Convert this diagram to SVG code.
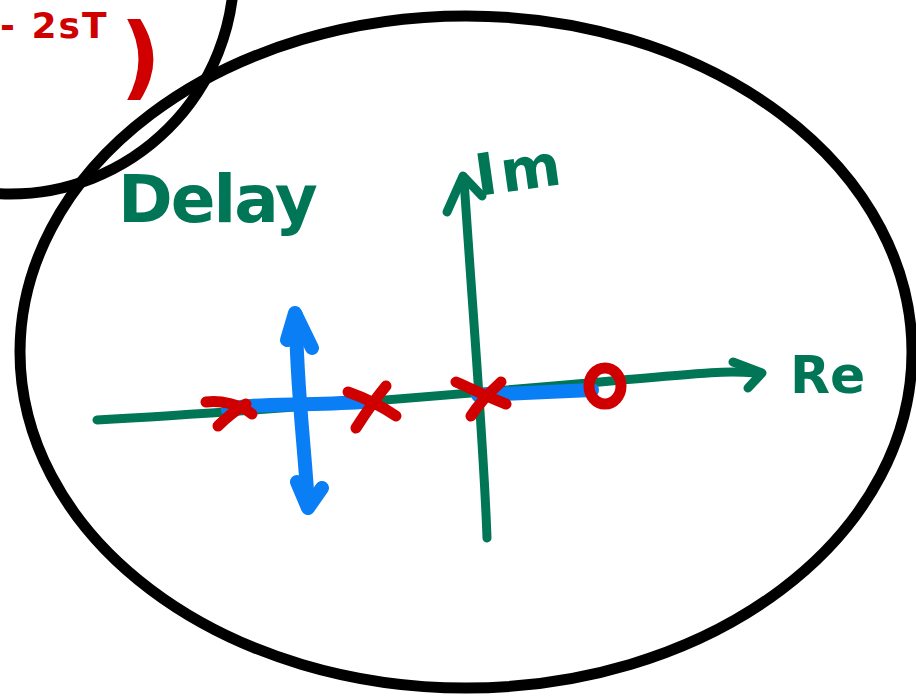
<svg xmlns="http://www.w3.org/2000/svg" width="916" height="697" viewBox="0 0 916 697">
<style>
.k{fill:none;stroke:#000;stroke-width:11}
.g{fill:none;stroke:#007656;stroke-width:9;stroke-linecap:round;stroke-linejoin:round}
.b{fill:none;stroke:#0a7ef5;stroke-width:14;stroke-linecap:round;stroke-linejoin:round}
.r{fill:none;stroke:#d00000;stroke-width:11;stroke-linecap:round;stroke-linejoin:round}
.gt{fill:#007656;font-family:"DejaVu Sans",sans-serif;font-weight:bold}
.rt{fill:#d00000;font-family:"DejaVu Sans",sans-serif;font-weight:bold}
</style>
<rect width="916" height="697" fill="#fff"/>
<g id="outline">
<circle class="k" cx="10" cy="-30" r="224"/>
<ellipse class="k" cx="466" cy="352" rx="446" ry="336"/>
</g>
<g id="formula">
<text class="rt" x="0" y="38" font-size="36" letter-spacing="2">- 2sT</text>
<text class="rt" x="120" y="88" font-size="90">)</text>
</g>
<g id="delay-label"><text class="gt" x="118" y="222" font-size="66" letter-spacing="-2">Delay</text></g>
<g id="connectors">
<path class="g" d="M97,420 C250,412 450,395 600,382 S720,372 760,373"/>
<path class="g" d="M733,362 L762,373 L748,388"/>
<path class="g" d="M487,538 C484,450 474,330 464,180"/>
<path class="g" d="M447,212 L463,176 L482,196"/>
<path class="b" d="M308,505 C304,440 296,380 296,315"/>
<path class="b" d="M287,340 L295,313 L312,348"/>
<path class="b" d="M297,482 L308,508 L322,488"/>
<path class="b" d="M228,410 C240,403 300,406 362,402"/>
<path class="b" d="M478,395 L592,390"/>
</g>
<g id="im-label"><text class="gt" x="478" y="196" font-size="58" letter-spacing="4" transform="rotate(-8 478 196)">Im</text></g>
<g id="re-label"><text class="gt" x="790" y="393" font-size="52">Re</text></g>
<g id="poles">
<path class="r" d="M206,402 C220,400 240,404 252,414 M246,404 C236,410 226,418 218,426"/>
<path class="r" d="M356,428 C365,414 376,398 386,386 M348,392 C365,398 380,405 396,416"/>
<path class="r" d="M456,382 C470,388 490,398 506,404 M501,382 C490,392 478,405 471,416"/>
<ellipse class="r" cx="605" cy="386" rx="16" ry="18"/>
</g>
</svg>
